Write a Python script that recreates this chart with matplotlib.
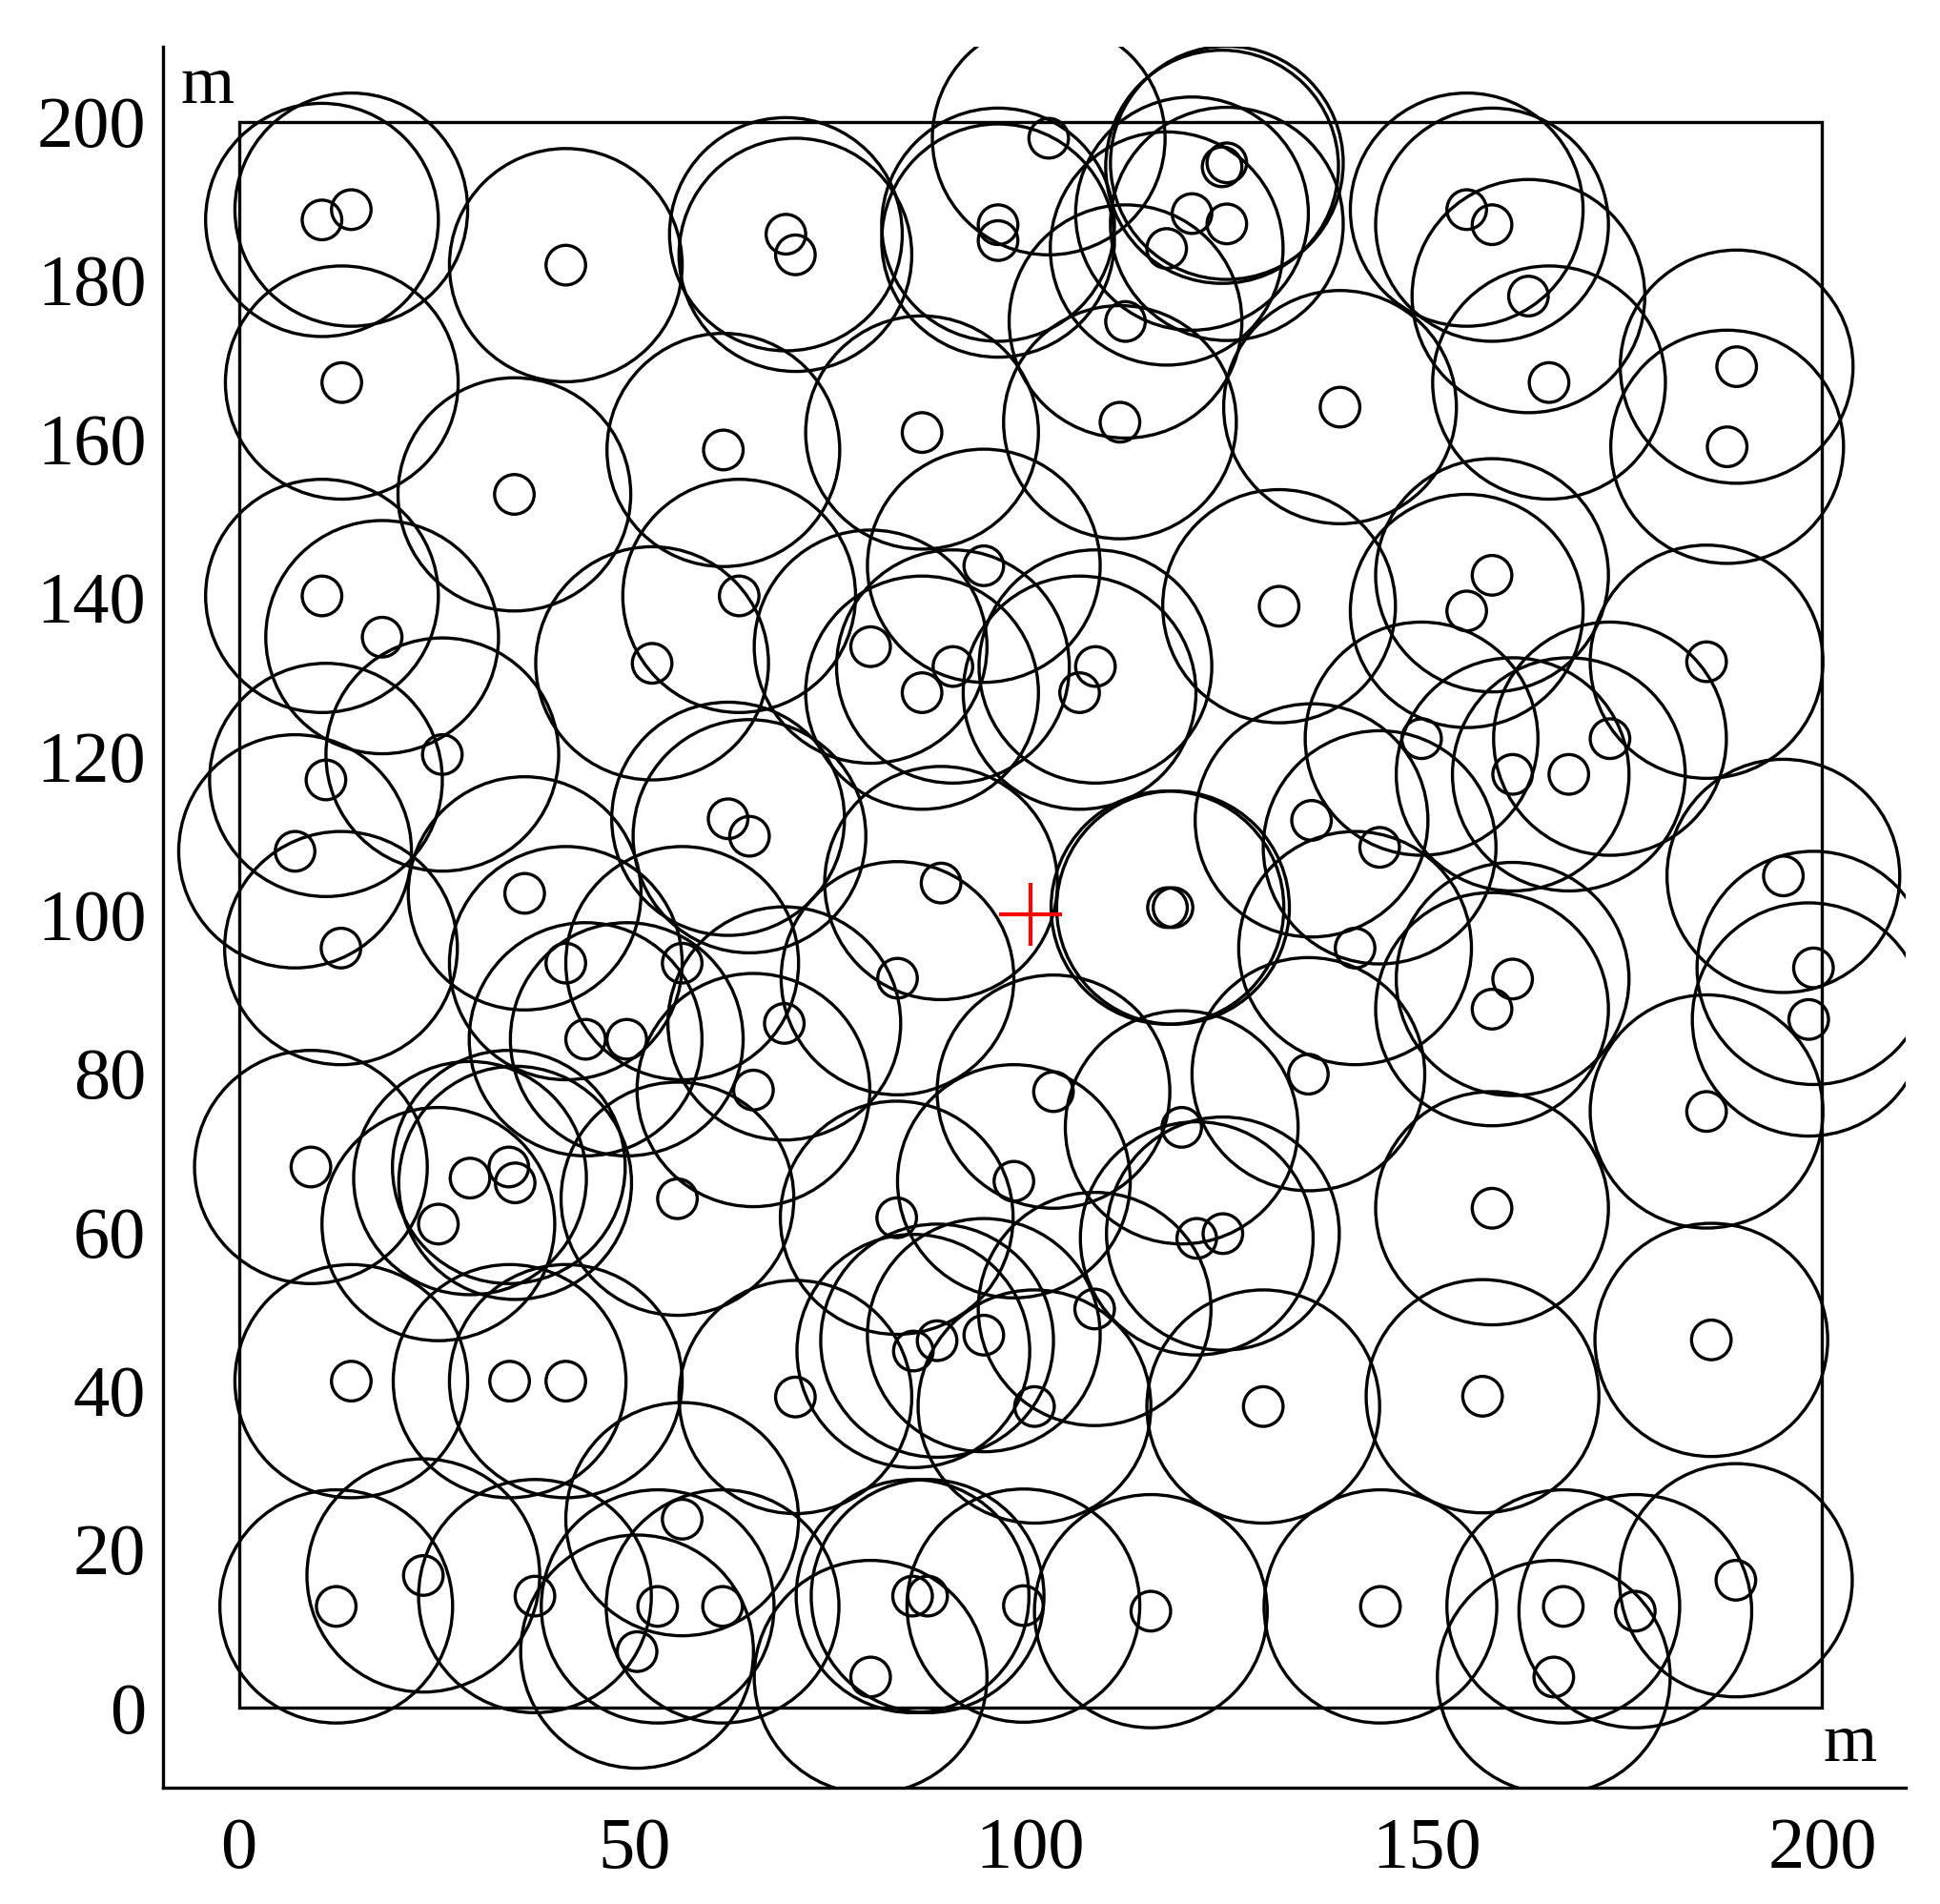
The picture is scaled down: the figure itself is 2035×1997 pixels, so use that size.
import matplotlib
matplotlib.use("Agg")
import matplotlib.pyplot as plt
from matplotlib.patches import Circle, Rectangle

plt.rcParams['font.family'] = ['Liberation Serif', 'DejaVu Serif']

# point coordinates (m)
xs = [10.5, 14.2, 41.3, 69.1, 70.3, 95.9, 95.9, 102.3, 124.2, 124.8, 120.4, 124.8,
      117.2, 112.0, 111.3, 86.3, 13.0, 61.2, 155.1, 158.3, 162.9, 165.5, 139.1, 189.2,
      188.0, 34.8, 10.5, 18.1, 63.2, 52.2, 25.7, 11.0, 7.1, 61.8, 64.5, 36.1,
      94.1, 79.8, 90.2, 86.3, 108.2, 106.2, 131.4, 135.5, 88.7,
      158.3, 155.1, 185.4, 149.4, 173.2, 160.9, 168.0, 144.1, 195.1,
      12.9, 41.3, 56.0, 43.8, 49.0, 65.0, 9.1, 29.2, 34.1, 34.9, 25.2, 55.4,
      117.3, 118.0, 83.2, 68.9, 102.9, 135.1, 119.1, 97.9, 83.1, 121.0, 124.3,
      141.0, 160.9, 158.3, 198.9, 198.3, 185.4, 158.3,
      14.2, 34.2, 41.3, 12.3, 23.3, 37.4, 56.0, 52.9, 61.1, 50.3,
      70.3, 85.2, 88.2, 94.1, 108.1, 100.5, 129.4, 85.1, 87.0, 79.8, 99.1, 115.2,
      186.0, 157.1, 144.2, 167.3, 176.4, 166.1, 189.1]
ys = [187.6, 188.9, 181.9, 185.8, 183.2, 187.0, 185.0, 197.9, 194.3, 194.8, 188.4, 187.1,
      184.0, 174.8, 162.1, 160.8, 167.1, 158.6, 188.9, 187.0, 178.0, 167.1, 164.0, 169.1,
      159.0, 153.0, 140.2, 135.0, 140.2, 131.7, 120.2, 117.0, 108.0, 112.1, 109.9, 102.7,
      144.0, 133.8, 131.3, 128.0, 131.3, 128.0, 138.9, 111.9, 104.0,
      142.8, 138.3, 131.9, 122.2, 122.2, 117.7, 117.7, 108.5, 104.9,
      95.8, 93.9, 93.9, 84.3, 84.3, 77.9, 68.2, 66.8, 68.2, 66.2, 61.0, 64.2,
      100.9, 100.9, 92.0, 86.3, 77.7, 79.9, 73.2, 66.4, 61.8, 59.2, 59.8,
      95.8, 91.9, 88.1, 93.3, 86.8, 75.2, 63.0,
      41.2, 41.2, 41.2, 12.8, 16.7, 14.1, 23.8, 12.8, 12.8, 7.1,
      39.2, 45.0, 46.3, 47.0, 50.3, 38.0, 38.0, 14.1, 14.1, 3.9, 12.9, 12.2,
      46.4, 39.3, 12.8, 12.8, 12.2, 3.9, 16.1]

r_big = 14.7
r_small = 2.5
field = 200
center = (100, 100)
xticks = [0, 50, 100, 150, 200]
yticks = [0, 20, 40, 60, 80, 100, 120, 140, 160, 180, 200]

fig = plt.figure(figsize=(20.35, 19.97), dpi=100)
ax = fig.add_axes([0.0842, 0.0609, 0.8979, 0.9144])

lw = 2.4
ax.add_patch(Rectangle((0, 0), field, field, fill=False, ec='black', lw=lw))
for x, y in zip(xs, ys):
    ax.add_patch(Circle((x, y), r_big, fill=False, ec='black', lw=lw))
    ax.add_patch(Circle((x, y), r_small, fill=False, ec='black', lw=lw))

ax.plot([center[0]], [center[1]], marker='+', color='red', markersize=47, mew=3, ls='none')

ax.set_xlim(-9.54, 210.5)
ax.set_ylim(-10.1, 209.4)
ax.set_xticks(xticks)
ax.set_yticks(yticks)
ax.set_xticklabels([str(t) for t in xticks])
ax.set_yticklabels([str(t) for t in yticks])
ax.tick_params(axis='both', length=0, labelsize=55)
ax.tick_params(axis='x', pad=22)
ax.tick_params(axis='y', pad=13)
for s in ['top', 'right']:
    ax.spines[s].set_visible(False)
for s in ['left', 'bottom']:
    ax.spines[s].set_linewidth(lw)

ax.text(-4.0, 204.4, 'm', fontsize=52, ha='center', va='center')
ax.text(203.5, -4.6, 'm', fontsize=52, ha='center', va='center')

fig.savefig('out.png', dpi=100)
